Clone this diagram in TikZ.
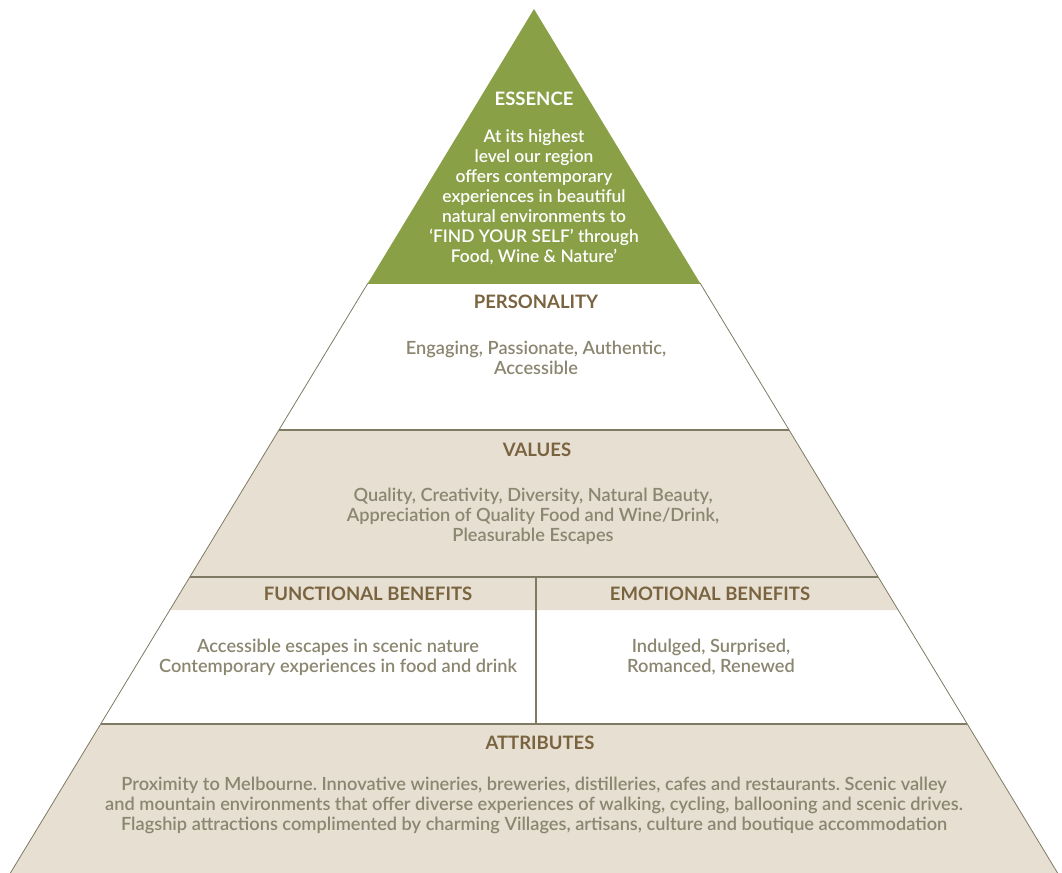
\documentclass[tikz,border=0pt]{standalone}
\usepackage{fontspec}
\setmainfont{Lato}
\newfontfamily\midweight{Lato Semibold}
\frenchspacing
\usetikzlibrary{positioning}
\definecolor{essgreen}{HTML}{8AA047}
\definecolor{sand}{HTML}{E6DFD2}
\definecolor{headbrown}{HTML}{7A6440}
\definecolor{bodygrey}{HTML}{8A8670}
\definecolor{rulegrey}{HTML}{7E7A63}

\begin{document}
\begin{tikzpicture}[x=0.5pt,y=-0.5pt,
  heading/.style={font=\bfseries\fontsize{9.25}{10}\selectfont,text=headbrown},
  body/.style={font=\midweight\fontsize{9.1}{10}\selectfont,text=bodygrey,align=center}]
\useasboundingbox (0,0) rectangle (1062,873);
% layers
\fill[essgreen] (534,9) -- (700,283) -- (368,283) -- cycle;
\fill[sand] (278.9,430) -- (789.1,430) -- (878.2,577) -- (189.8,577) -- cycle;
\fill[sand] (189.8,577) -- (878.2,577) -- (898.2,610) -- (169.8,610) -- cycle;
\fill[sand] (100.7,724) -- (967.3,724) -- (1057.6,873) -- (10.4,873) -- cycle;
% outline
\draw[rulegrey,thin] (368,283) -- (10.4,873);
\draw[rulegrey,thin] (700,283) -- (1057.6,873);
\draw[essgreen,line width=1.2pt] (368,283) -- (700,283);
\draw[rulegrey,line width=1pt] (278.9,430) -- (789.1,430);
\draw[rulegrey,line width=1pt] (189.8,577) -- (878.2,577);
\draw[rulegrey,line width=1pt] (100.7,724) -- (967.3,724);
\draw[rulegrey,line width=1pt] (536,577) -- (536,724);

% texts
\node[heading,text=white] (essence) at (534,99) {ESSENCE};
\node[body,text=white,font=\midweight\fontsize{8.7}{10}\selectfont] (essencetxt) at (534,197.5) {At its highest\\level our region\\offers contemporary\\experiences in beautiful\\natural environments to\\‘FIND YOUR SELF’ through\\Food, Wine \& Nature’};
\node[heading] (personality) at (536,302) {PERSONALITY};
\node[body] (personalitytxt) at (536,358) {Engaging, Passionate, Authentic,\\Accessible};
\node[heading] (values) at (537,450) {VALUES};
\node[body] (valuestxt) at (533,516) {Quality, Creativity, Diversity, Natural Beauty,\\Appreciation of Quality Food and Wine/Drink,\\Pleasurable Escapes};
\node[heading] (functional) at (368,594) {FUNCTIONAL BENEFITS};
\node[body] (functionaltxt) at (338,657.5) {Accessible escapes in scenic nature\\Contemporary experiences in food and drink};
\node[heading] (emotional) at (710,594) {EMOTIONAL BENEFITS};
\node[body] (emotionaltxt) at (711,657.5) {Indulged, Surprised,\\Romanced, Renewed};
\node[heading] (attributes) at (540,743) {ATTRIBUTES};
\node[body] (attributestxt) at (534,805.5) {Proximity to Melbourne. Innovative wineries, breweries, distilleries, cafes and restaurants. Scenic valley\\and mountain environments that offer diverse experiences of walking, cycling, ballooning and scenic drives.\\Flagship attractions complimented by charming Villages, artisans, culture and boutique accommodation};
\end{tikzpicture}
\end{document}
